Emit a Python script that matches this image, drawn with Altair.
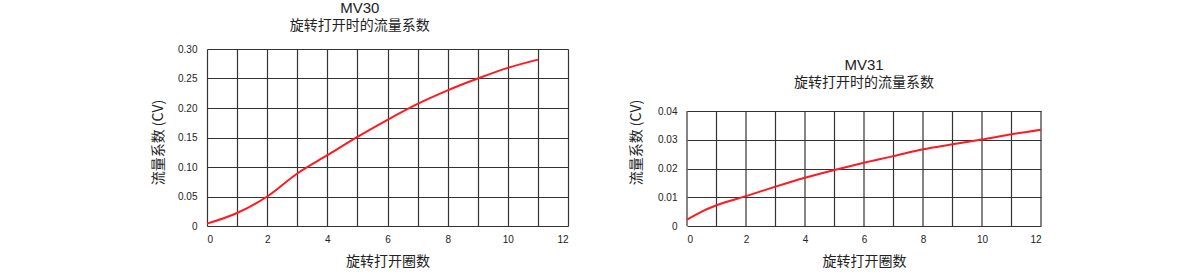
import altair as alt
import pandas as pd

# ---- data ----
mv30_turns = [0, 1, 2, 3, 4, 5, 6, 7, 8, 9, 10, 11]
mv30_cv = [0.004, 0.022, 0.050, 0.089, 0.120, 0.151, 0.180, 0.207, 0.230, 0.250, 0.268, 0.282]

mv31_turns = [0, 0.5, 1, 2, 3, 4, 5, 6, 7, 8, 9, 10, 11, 12]
mv31_cv = [0.0022, 0.0050, 0.0072, 0.0104, 0.0137, 0.0168, 0.0195, 0.0220,
           0.0243, 0.0267, 0.0284, 0.0301, 0.0319, 0.0335]

x_ticks = list(range(0, 13))
mv30_y_ticks = [0, 0.05, 0.10, 0.15, 0.20, 0.25, 0.30]
mv31_y_ticks = [0, 0.01, 0.02, 0.03, 0.04]

x_title = "旋转打开圈数"
y_title = "流量系数 (CV)"
subtitle = "旋转打开时的流量系数"

FONT = "Liberation Sans, Arial, 'Noto Sans CJK SC'"
CJK = "'Noto Sans CJK SC', Liberation Sans"
GRID = "#333333"
RED = "#ff1a1f"

df30 = pd.DataFrame({"turns": mv30_turns, "cv": mv30_cv})
df31 = pd.DataFrame({"turns": mv31_turns, "cv": mv31_cv})
dfx = pd.DataFrame({"turns": x_ticks})

W_L, W_R, H = 361, 354, 177
H_R = 115


def x_enc(grid):
    return alt.X(
        "turns:Q",
        scale=alt.Scale(domain=[0, 12], nice=False),
        axis=alt.Axis(
            values=x_ticks,
            labelExpr="datum.value % 2 == 0 ? datum.label : ''",
            title=x_title,
            titlePadding=10,
            grid=grid,
        ),
    )


def y_enc(yticks, ymax, rng, tpad):
    sc = alt.Scale(domain=[0, ymax], nice=False)
    if rng is not None:
        sc = alt.Scale(domain=[0, ymax], nice=False, range=rng)
    return alt.Y(
        "cv:Q",
        scale=sc,
        axis=alt.Axis(
            values=yticks,
            labelExpr="datum.value == 0 ? '0' : format(datum.value, '.2f')",
            title=y_title,
            titlePadding=tpad,
            titleY=93,
        ),
    )


left = (
    alt.Chart(df30)
    .mark_line(color=RED, strokeWidth=2, interpolate="monotone")
    .encode(x=x_enc(True), y=y_enc(mv30_y_ticks, 0.30, None, 12))
    .properties(
        width=W_L,
        height=H,
        title=alt.TitleParams(text="MV30", subtitle=subtitle, frame="bounds", offset=11),
    )
)

# right panel: same frame height, data occupies the lower 115 px
r_line = (
    alt.Chart(df31)
    .mark_line(color=RED, strokeWidth=2, interpolate="monotone")
    .encode(x=x_enc(False), y=y_enc(mv31_y_ticks, 0.04, [H, H - H_R], 14))
)
r_vgrid = (
    alt.Chart(dfx)
    .mark_rule(color=GRID, strokeWidth=1.2)
    .encode(x="turns:Q", y=alt.datum(0.04), y2=alt.datum(0))
)
right = (
    alt.layer(r_vgrid, r_line)
    .properties(
        width=W_R,
        height=H,
        title=alt.TitleParams(text="MV31", subtitle=subtitle, frame="group", dy=52, offset=11),
    )
)

chart = (
    alt.hconcat(left, right, spacing=119, bounds="flush")
    .properties(padding={"left": 151, "top": 1, "right": 0, "bottom": 0})
    .configure_view(strokeWidth=0)
    .configure_axis(
        gridColor=GRID,
        gridWidth=1.2,
        gridOpacity=1,
        domain=False,
        ticks=False,
        labelFont=FONT,
        labelFontSize=10,
        labelColor="#222222",
        labelPadding=8,
        titleFont=CJK,
        titleFontSize=14,
        titleFontWeight="normal",
        titleColor="#222222",
    )
    .configure_axisY(labelPadding=10, grid=True)
    .configure_title(
        anchor="middle",
        font=FONT,
        fontSize=15,
        fontWeight="normal",
        color="#222222",
        subtitleFont=CJK,
        subtitleFontSize=14,
        subtitleColor="#222222",
        subtitlePadding=3,
    )
)

chart.save("out.html", embed_options={"renderer": "svg", "actions": False})
